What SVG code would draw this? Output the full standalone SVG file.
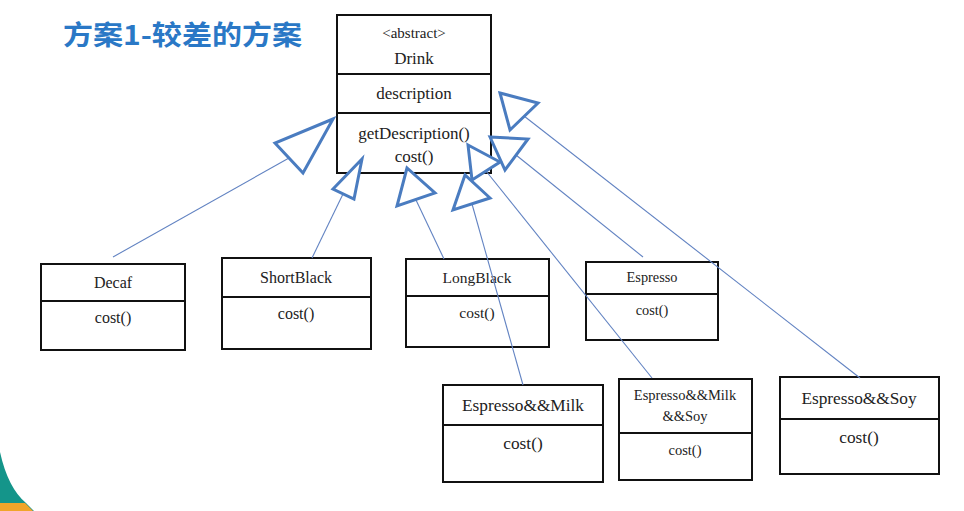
<svg xmlns="http://www.w3.org/2000/svg" width="964" height="511" viewBox="0 0 964 511">
<style>
.box{fill:#fff;stroke:#111;stroke-width:2}
.div{stroke:#111;stroke-width:2}
.t{font-family:'Liberation Serif','DejaVu Serif',serif;fill:#222;text-anchor:middle}
.ln{stroke:#6283c2;stroke-width:1.1;fill:none}
.hd{fill:#fff;stroke:#4a7cc0;stroke-width:3;stroke-linejoin:miter}
</style>
<rect width="964" height="511" fill="#fff"/>
<path d="M0,452 Q8,488 26,503 L34,511 L0,511 Z" fill="#14958a"/>
<path d="M0,503 L25,503 L33,511 L0,511 Z" fill="#f0a52a"/>
<text x="63" y="45" font-family="'Noto Sans CJK SC','Noto Sans',sans-serif" font-size="27" font-weight="bold" fill="#2a78c6" textLength="239" lengthAdjust="spacingAndGlyphs">方案1-较差的方案</text>

<g id="Drink">
<rect class="box" x="337" y="15" width="154" height="158"/>
<line class="div" x1="337" y1="74" x2="491" y2="74"/>
<line class="div" x1="337" y1="113" x2="491" y2="113"/>
<text class="t" x="414" y="38" font-size="15">&lt;abstract&gt;</text>
<text class="t" x="414" y="64" font-size="17">Drink</text>
<text class="t" x="414" y="99" font-size="17">description</text>
<text class="t" x="414" y="139" font-size="17">getDescription()</text>
<text class="t" x="414" y="162" font-size="17">cost()</text>
</g>

<g id="Decaf">
<rect class="box" x="41" y="264" width="144" height="86"/>
<line class="div" x1="41" y1="301" x2="185" y2="301"/>
<text class="t" x="113" y="288" font-size="16">Decaf</text>
<text class="t" x="113" y="323" font-size="16">cost()</text>
</g>

<g id="ShortBlack">
<rect class="box" x="222" y="258" width="149" height="91"/>
<line class="div" x1="222" y1="297" x2="371" y2="297"/>
<text class="t" x="296" y="283" font-size="16">ShortBlack</text>
<text class="t" x="296" y="319" font-size="16">cost()</text>
</g>

<g id="LongBlack">
<rect class="box" x="406" y="259" width="143" height="88"/>
<line class="div" x1="406" y1="296" x2="549" y2="296"/>
<text class="t" x="477" y="283" font-size="15.5">LongBlack</text>
<text class="t" x="477" y="318" font-size="15.5">cost()</text>
</g>

<g id="Espresso">
<rect class="box" x="586" y="262" width="132" height="78"/>
<line class="div" x1="586" y1="294" x2="718" y2="294"/>
<text class="t" x="652" y="282" font-size="14.3">Espresso</text>
<text class="t" x="652" y="315" font-size="14.3">cost()</text>
</g>

<g id="EspressoMilk">
<rect class="box" x="443" y="385" width="160" height="97"/>
<line class="div" x1="443" y1="425" x2="603" y2="425"/>
<text class="t" x="523" y="411" font-size="17.3">Espresso&amp;&amp;Milk</text>
<text class="t" x="523" y="449" font-size="17.3">cost()</text>
</g>

<g id="EspressoMilkSoy">
<rect class="box" x="619" y="379" width="133" height="101"/>
<line class="div" x1="619" y1="433" x2="752" y2="433"/>
<text class="t" x="685" y="400" font-size="14.5">Espresso&amp;&amp;Milk</text>
<text class="t" x="685" y="421" font-size="14.5">&amp;&amp;Soy</text>
<text class="t" x="685" y="455" font-size="14.5">cost()</text>
</g>

<g id="EspressoSoy">
<rect class="box" x="780" y="377" width="159" height="97"/>
<line class="div" x1="780" y1="419" x2="939" y2="419"/>
<text class="t" x="859" y="404" font-size="17.3">Espresso&amp;&amp;Soy</text>
<text class="t" x="859" y="443" font-size="17.3">cost()</text>
</g>

<g id="connectors">
<line class="ln" x1="113" y1="257" x2="289" y2="158"/>
<line class="ln" x1="312" y1="258" x2="343" y2="194"/>
<line class="ln" x1="444" y1="259" x2="416" y2="200"/>
<line class="ln" x1="523" y1="385" x2="472" y2="204"/>
<line class="ln" x1="652" y1="378" x2="486" y2="171"/>
<line class="ln" x1="643" y1="257" x2="516" y2="155"/>
<line class="ln" x1="860" y1="378" x2="524" y2="116"/>
<polygon class="hd" points="333,119 275,143 303,173"/>
<polygon class="hd" points="362,159 333,189 354,199"/>
<polygon class="hd" points="407,168 397,206 435,193"/>
<polygon class="hd" points="500,93 538,103 510,130"/>
<polygon class="hd" points="490,137 528,139 505,170"/>
<polygon class="hd" points="468,145 500,162 472,180"/>
<polygon class="hd" points="465,175 453,210 490,198"/>
</g>
</svg>
